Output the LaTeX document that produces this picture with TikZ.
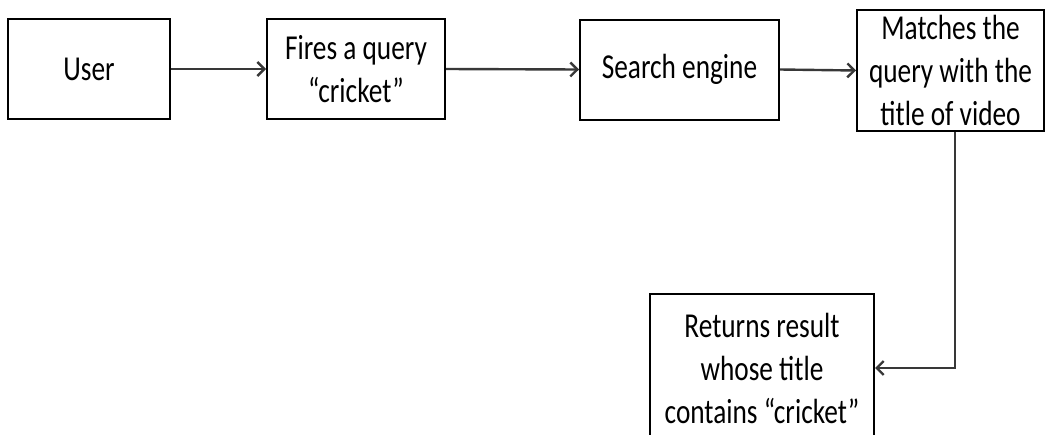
\documentclass[tikz,border=0pt]{standalone}
\usepackage{fontspec}
\setmainfont{Carlito}[FakeStretch=0.78]
\usetikzlibrary{arrows.meta}
\definecolor{linegray}{HTML}{383838}
\begin{document}
\begin{tikzpicture}[x=1pt,y=1pt,
  box/.style={draw=black,line width=2pt,fill=white,align=center,inner sep=0pt,
    font=\fontsize{35}{43}\selectfont},
  flow/.style={draw=linegray,line width=2.4pt,-{Straight Barb[length=7pt,width=14pt,line width=2.4pt]}}]
\useasboundingbox (0,0) rectangle (1046,-434);
\begin{scope}
\clip (0,0) rectangle (1046,-434);
\node[box,minimum width=162pt,minimum height=100pt] (U) at (89,-69) {User};
\node[box,minimum width=178pt,minimum height=100pt] (F) at (356,-69) {Fires a query\\“cricket”};
\node[box,minimum width=199pt,minimum height=100pt] (S) at (679.5,-69.5) {Search engine};
\node[box,minimum width=187pt,minimum height=121pt] (M) at (950.5,-70.5) {Matches the\\query with the\\title of video};
\node[box,minimum width=224pt,minimum height=148pt] (R) at (762,-368) {Returns result\\whose title\\contains “cricket”};
\coordinate (turn) at (955,-368);
\draw[flow] (U.east) -- (F.west);
\draw[flow] (F.east) -- (S.west);
\draw[flow] (S.east) -- (M.west);
\draw[flow] (M.south -| turn) -- (turn) -- (R.east);
\end{scope}
\end{tikzpicture}
\end{document}
